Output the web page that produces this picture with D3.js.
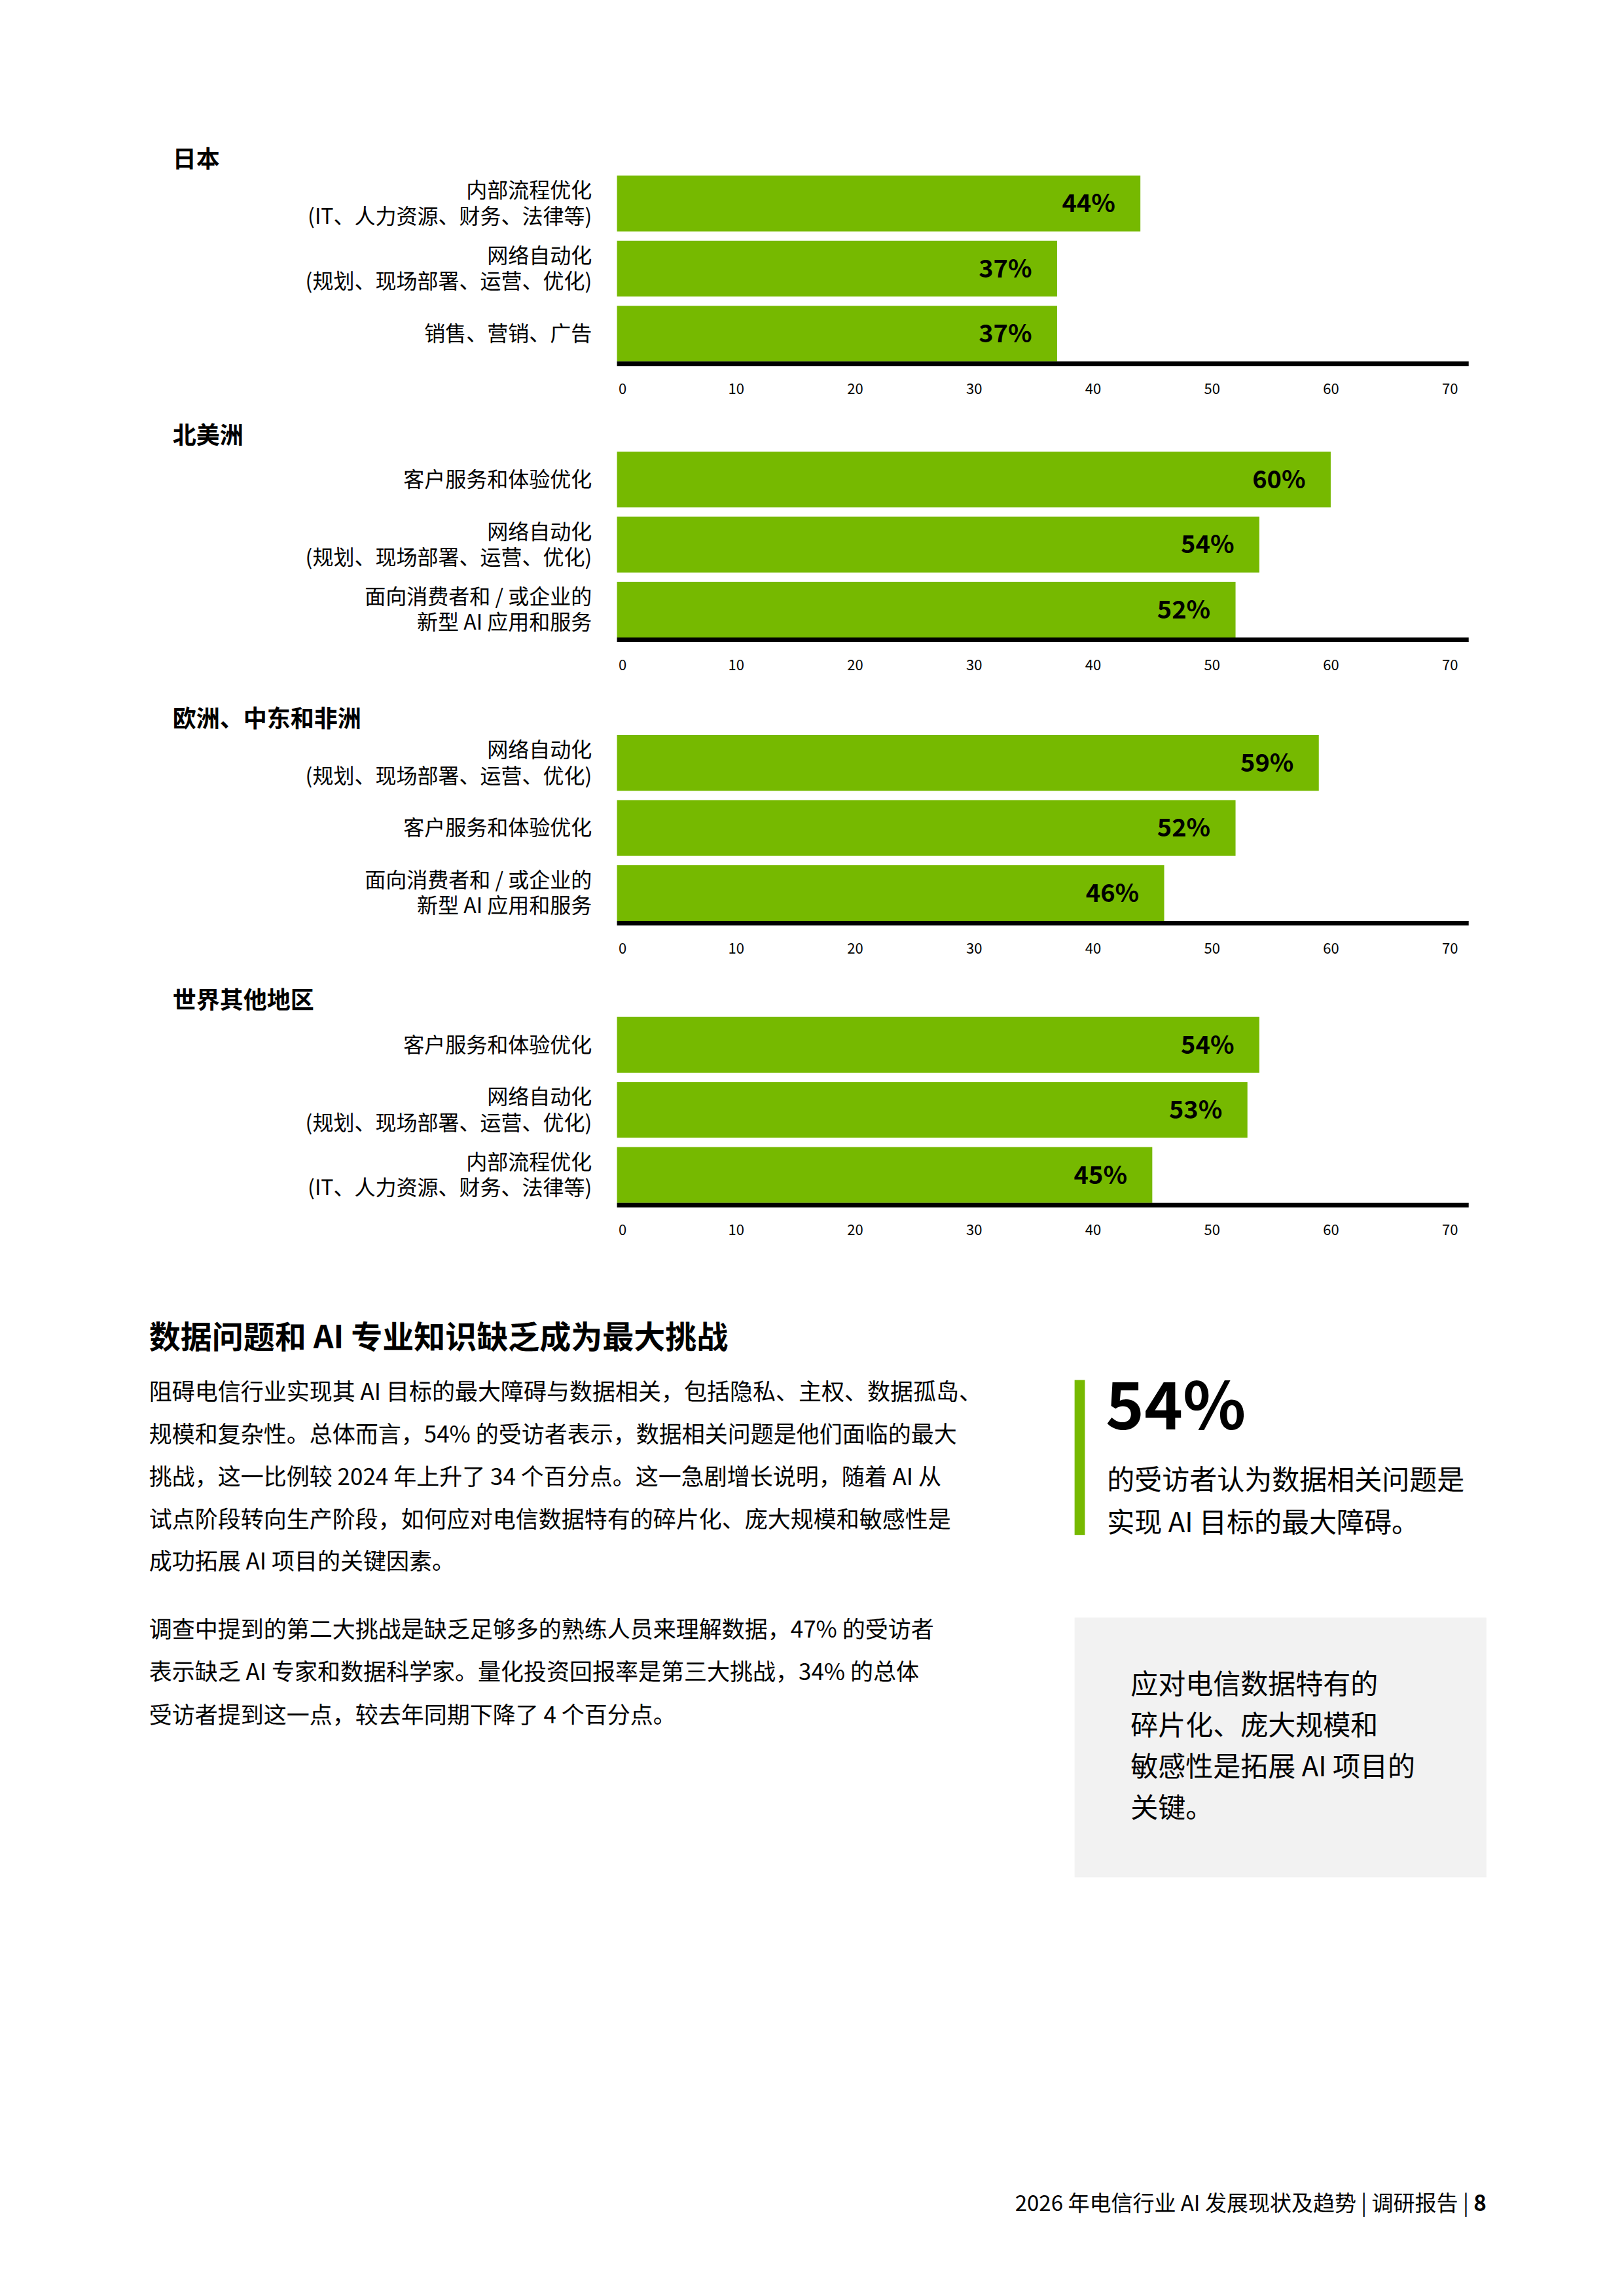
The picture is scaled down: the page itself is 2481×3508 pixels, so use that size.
<!DOCTYPE html>
<html><head><meta charset="utf-8">
<script src="https://cdn.jsdelivr.net/npm/d3@7"></script>
<style>body{margin:0;background:#fff}svg{display:block}text{font-family:"Noto Sans CJK SC","Noto Sans",sans-serif}</style>
</head><body>
<script>
const regions = ["日本","北美洲","欧洲、中东和非洲","世界其他地区"];
const categories = [
  [["内部流程优化","(IT、人力资源、财务、法律等)"],["网络自动化","(规划、现场部署、运营、优化)"],["销售、营销、广告"]],
  [["客户服务和体验优化"],["网络自动化","(规划、现场部署、运营、优化)"],["面向消费者和 / 或企业的","新型 AI 应用和服务"]],
  [["网络自动化","(规划、现场部署、运营、优化)"],["客户服务和体验优化"],["面向消费者和 / 或企业的","新型 AI 应用和服务"]],
  [["客户服务和体验优化"],["网络自动化","(规划、现场部署、运营、优化)"],["内部流程优化","(IT、人力资源、财务、法律等)"]]
];
const values = [[44,37,37],[60,54,52],[59,52,46],[54,53,45]];
const ticks = [0,10,20,30,40,50,60,70];

const k = 2.255;
const W=2481,H=3508,green="#76b900";
const svg=d3.select("body").append("svg").attr("width",W).attr("height",H);
const x=d3.scaleLinear().domain([0,71.6]).range([418*k,995*k]);
const groupTop=[119,306,498,689];

regions.forEach((r,gi)=>{
  const top=groupTop[gi]*k;
  const g=svg.append("g");
  g.append("text").attr("x",117*k).attr("y",top-11*k).attr("dy","0.35em")
   .attr("font-size",36).attr("font-weight",700).text(r);
  const y=d3.scaleBand().domain([0,1,2]).range([top,top+126*k]).paddingInner(6/42).paddingOuter(0);
  values[gi].forEach((v,i)=>{
    g.append("rect").attr("x",x(0)).attr("y",y(i)).attr("width",x(v)-x(0)).attr("height",y.bandwidth()).attr("fill",green);
    g.append("text").attr("x",x(v)-17*k).attr("y",y(i)+y.bandwidth()/2).attr("dy","0.35em")
     .attr("text-anchor","end").attr("font-size",38).attr("font-weight",700).text(v+"%");
    const lines=categories[gi][i];
    lines.forEach((l,li)=>{
      g.append("text").attr("x",401*k).attr("y",y(i)+y.bandwidth()/2+(li-(lines.length-1)/2)*17.5*k)
       .attr("dy","0.35em").attr("text-anchor","end").attr("font-size",32).text(l);
    });
  });
  const ay=top+126*k+1.5*k;
  g.append("line").attr("x1",x(0)).attr("x2",x.range()[1]).attr("y1",ay).attr("y2",ay).attr("stroke","#000").attr("stroke-width",7);
  const ax=d3.axisBottom(x).tickValues(ticks).tickSize(0).tickPadding(0);
  const ag=g.append("g").attr("transform",`translate(0,${ay+17*k})`).call(ax);
  ag.select(".domain").remove();
  ag.selectAll("text").attr("font-size",22).attr("font-family","Noto Sans CJK SC").attr("fill","#000").attr("dy","0.35em")
    .attr("transform",function(d){return d===0?"translate(8,0)":""});
});

// text section
svg.append("text").attr("x",101*k).attr("y",906*k).attr("dy","0.35em").attr("font-size",48).attr("font-weight",700)
  .text("数据问题和 AI 专业知识缺乏成为最大挑战");
const para1=["阻碍电信行业实现其 AI 目标的最大障碍与数据相关，包括隐私、主权、数据孤岛、","规模和复杂性。总体而言，54% 的受访者表示，数据相关问题是他们面临的最大","挑战，这一比例较 2024 年上升了 34 个百分点。这一急剧增长说明，随着 AI 从","试点阶段转向生产阶段，如何应对电信数据特有的碎片化、庞大规模和敏感性是","成功拓展 AI 项目的关键因素。"];
const para2=["调查中提到的第二大挑战是缺乏足够多的熟练人员来理解数据，47% 的受访者","表示缺乏 AI 专家和数据科学家。量化投资回报率是第三大挑战，34% 的总体","受访者提到这一点，较去年同期下降了 4 个百分点。"];
para1.forEach((t,i)=>svg.append("text").attr("x",101*k).attr("y",(943+i*28.8)*k).attr("dy","0.35em").attr("font-size",35).text(t));
para2.forEach((t,i)=>svg.append("text").attr("x",101*k).attr("y",(1104+i*29)*k).attr("dy","0.35em").attr("font-size",35).text(t));

svg.append("rect").attr("x",728*k).attr("y",935*k).attr("width",7*k).attr("height",105*k).attr("fill",green);
svg.append("text").attr("x",749*k).attr("y",953*k).attr("dy","0.35em").attr("font-size",100).attr("font-weight",700).text("54%");
["的受访者认为数据相关问题是","实现 AI 目标的最大障碍。"].forEach((t,i)=>svg.append("text").attr("x",750*k).attr("y",(1003+i*28.5)*k).attr("dy","0.35em").attr("font-size",42).text(t));

svg.append("rect").attr("x",728*k).attr("y",1096*k).attr("width",279*k).attr("height",176*k).attr("fill","#f2f2f2");
["应对电信数据特有的","碎片化、庞大规模和","敏感性是拓展 AI 项目的","关键。"].forEach((t,i)=>svg.append("text").attr("x",766*k).attr("y",(1141+i*28)*k).attr("dy","0.35em").attr("font-size",42).text(t));

const f=svg.append("text").attr("x",1007*k).attr("y",1493*k).attr("dy","0.35em").attr("text-anchor","end").attr("font-size",33);
f.append("tspan").text("2026 年电信行业 AI 发展现状及趋势  |  调研报告  |  ");
f.append("tspan").attr("font-weight",700).text("8");
</script>
</body></html>
